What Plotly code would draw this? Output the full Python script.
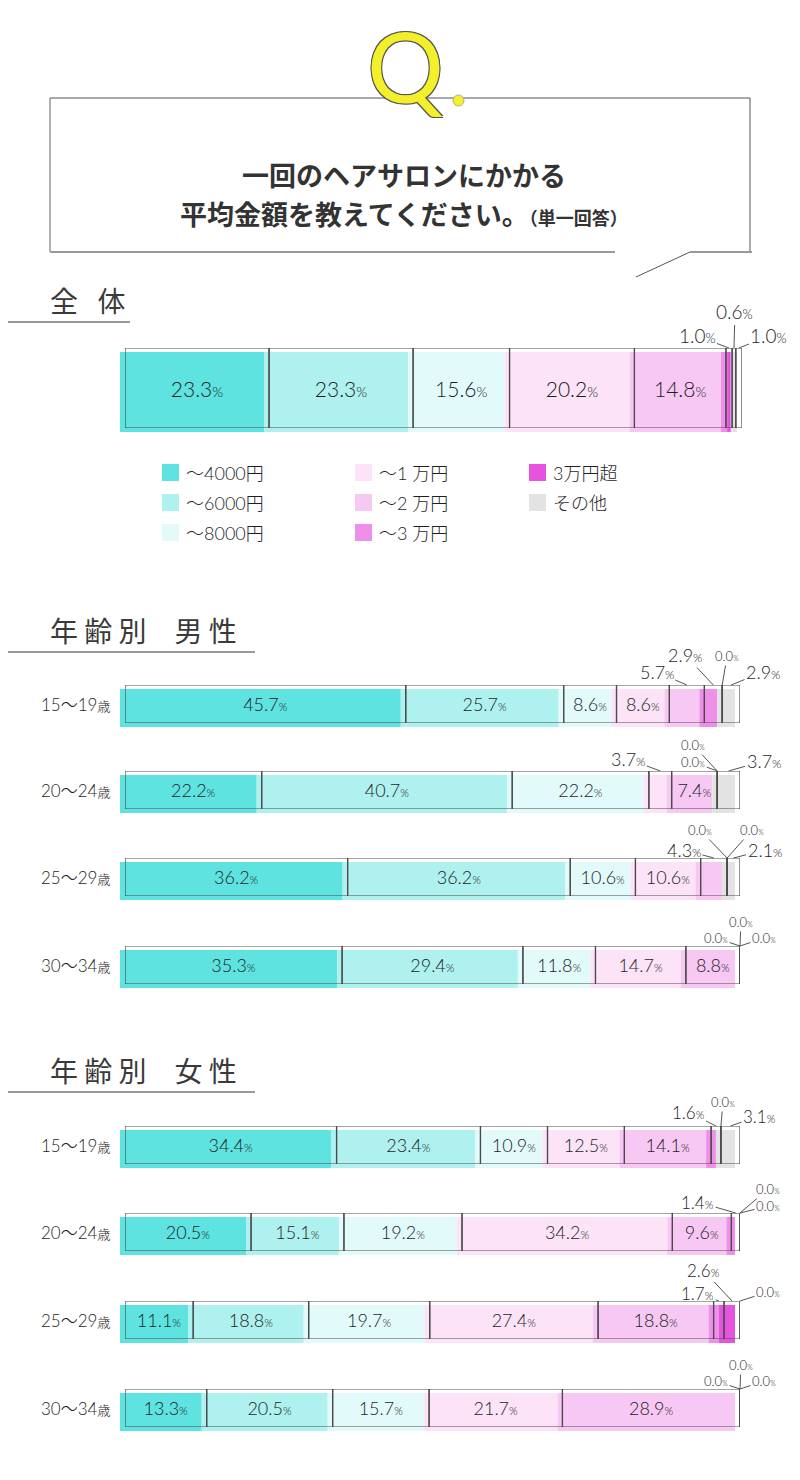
import numpy as np
import plotly.graph_objects as go

W, H = 800, 1480
PAD = 8  # ページ余白の分

# 回答カテゴリと色
categories = ['～4000円', '～6000円', '～8000円', '～1万円', '～2万円', '～3万円', '3万円超', 'その他']
legend_labels = ['～4000円', '～6000円', '～8000円', '～1 万円', '～2 万円', '～3 万円', '3万円超', 'その他']
colors = ['#5fe3e0', '#aef1ef', '#e3fafa', '#fce3f8', '#f7c8f3', '#ee8fe9', '#e653de', '#e3e3e3']

# 全体
overall = [23.3, 23.3, 15.6, 20.2, 14.8, 1.0, 0.6, 1.0]

# 年齢別
age_groups = ['15～19', '20～24', '25～29', '30～34']
male_15_19 = [45.7, 25.7, 8.6, 8.6, 5.7, 2.9, 0.0, 2.9]
male_20_24 = [22.2, 40.7, 22.2, 3.7, 7.4, 0.0, 0.0, 3.7]
male_25_29 = [36.2, 36.2, 10.6, 10.6, 4.3, 0.0, 0.0, 2.1]
male_30_34 = [35.3, 29.4, 11.8, 14.7, 8.8, 0.0, 0.0, 0.0]
female_15_19 = [34.4, 23.4, 10.9, 12.5, 14.1, 1.6, 0.0, 3.1]
female_20_24 = [20.5, 15.1, 19.2, 34.2, 9.6, 1.4, 0.0, 0.0]
female_25_29 = [11.1, 18.8, 19.7, 27.4, 18.8, 1.7, 2.6, 0.0]
female_30_34 = [13.3, 20.5, 15.7, 21.7, 28.9, 0.0, 0.0, 0.0]

NUM_FONT = 'Lato, Noto Sans CJK JP'
JP_FONT = 'Noto Sans CJK JP'
TXT = '#1e1e1e'

FW, FH = W - PAD, H - PAD


def px(x):
    return (x - PAD) / FW


def py(y):
    return 1 - (y - PAD) / FH


def pct(v, small):
    return f"{v:.1f}<span style='font-size:{small}px'>%</span>"


# 外側ラベルの位置 (区分番号: (ax, ay))
callouts_overall = {5: (-32, -12), 6: (1, -36), 7: (30, -12)}
callouts = [
    {4: (-30, -13), 5: (-28, -30), 6: (5, -29), 7: (32, -13)},
    {3: (-32, -12), 5: (-24, -9), 6: (-24, -26), 7: (35, -10)},
    {4: (-30, -8), 5: (-27, -28), 6: (25, -28), 7: (31, -8)},
    {5: (-24, -8), 6: (1, -24), 7: (24, -8)},
    {5: (-28, -14), 6: (2, -24), 7: (29, -10)},
    {5: (-38, -11), 6: (28, -24), 7: (28, -7)},
    {5: (-21, -8), 6: (-29, -31), 7: (28, -9)},
    {5: (-24, -8), 6: (1, -24), 7: (24, -8)},
]

bars = [dict(vals=overall, top=348, bottom=428, x0=125, x1=742, fs=21, cfs=19, cs=callouts_overall, label=None)]
male_tops = [685, 771, 858, 946]
female_tops = [1126, 1213, 1301, 1389]
for i, v in enumerate([male_15_19, male_20_24, male_25_29, male_30_34]):
    bars.append(dict(vals=v, top=male_tops[i], bottom=male_tops[i] + 38, x0=125, x1=740,
                     fs=18, cfs=18, cs=callouts[i], label=age_groups[i]))
for i, v in enumerate([female_15_19, female_20_24, female_25_29, female_30_34]):
    bars.append(dict(vals=v, top=female_tops[i], bottom=female_tops[i] + 38, x0=125, x1=740,
                     fs=18, cfs=17, cs=callouts[4 + i], label=age_groups[i]))

fig = go.Figure()
annotations = []
shapes = []
layout_axes = {}

n = 1
for b in bars:
    vals = np.array(b['vals'])
    base = np.concatenate([[0], np.cumsum(vals)[:-1]])
    total = vals.sum()
    for k, shift in enumerate([(-5, 4), (0, 0)]):
        idx = n + k
        xa = 'x' if idx == 1 else f'x{idx}'
        ya = 'y' if idx == 1 else f'y{idx}'
        layout_axes['xaxis' if idx == 1 else f'xaxis{idx}'] = dict(
            domain=[px(b['x0'] + shift[0]), px(b['x1'] + shift[0])], range=[0, total],
            visible=False, anchor=ya, fixedrange=True)
        layout_axes['yaxis' if idx == 1 else f'yaxis{idx}'] = dict(
            domain=[py(b['bottom'] + shift[1]), py(b['top'] + shift[1])], range=[-0.5, 0.5],
            visible=False, anchor=xa, fixedrange=True)
        if k == 0:
            fig.add_trace(go.Bar(x=vals, base=base, y=[0] * len(vals), orientation='h', width=1,
                                 marker=dict(color=colors, line=dict(width=0)),
                                 xaxis=xa, yaxis=ya, showlegend=False, hoverinfo='skip'))
        else:
            texts = [pct(v, b['fs'] - 7) if v >= 7 else '' for v in vals]
            fig.add_trace(go.Bar(x=vals, base=base, y=[0] * len(vals), orientation='h', width=1,
                                 marker=dict(color='rgba(0,0,0,0)', line=dict(color='#4a4a4a', width=1.2)),
                                 text=texts, textposition='inside', insidetextanchor='middle',
                                 constraintext='none', cliponaxis=False,
                                 textfont=dict(family=NUM_FONT, size=b['fs'], color=TXT, weight=300),
                                 xaxis=xa, yaxis=ya, showlegend=False, hoverinfo='skip'))
            for seg, (ax, ay) in b['cs'].items():
                v = vals[seg]
                size = 13 if v == 0 else b['cfs']
                annotations.append(dict(
                    xref=xa, yref=ya, x=base[seg] + v / 2, y=0.5, ax=ax, ay=ay,
                    text=pct(v, size - 6), showarrow=True, arrowhead=0, arrowwidth=1,
                    arrowcolor='#555555', standoff=0,
                    font=dict(family=NUM_FONT, size=size, color=TXT, weight=300)))
            if b['label']:
                annotations.append(dict(
                    xref='paper', yref='paper', x=px(112), y=py((b['top'] + b['bottom']) / 2),
                    xanchor='right', yanchor='middle', showarrow=False,
                    text=b['label'] + "<span style='font-size:13px'>歳</span>",
                    font=dict(family=NUM_FONT, size=17, color=TXT, weight=300)))
    n += 2

# 凡例
for i, lab in enumerate(legend_labels):
    col, row = i // 3, i % 3
    sx = [162, 355, 529][col]
    cy = [473, 503, 533][row]
    shapes.append(dict(type='rect', xref='paper', yref='paper', x0=px(sx), x1=px(sx + 17),
                       y0=py(cy + 8), y1=py(cy - 9), fillcolor=colors[i], line=dict(width=0)))
    annotations.append(dict(xref='paper', yref='paper', x=px(sx + 22), y=py(cy), xanchor='left',
                            yanchor='middle', showarrow=False, text=lab,
                            font=dict(family=NUM_FONT, size=18, color=TXT, weight=300)))

# 見出し
for text, y, ux in [('全\u2002\u2009体', 300, 130), ('年 齢 別\u3000男 性', 630, 255), ('年 齢 別\u3000女 性', 1070, 255)]:
    annotations.append(dict(xref='paper', yref='paper', x=px(48), y=py(y), xanchor='left',
                            yanchor='middle', showarrow=False, text=text,
                            font=dict(family=JP_FONT, size=28, color='#3a3a3a')))
    shapes.append(dict(type='line', xref='paper', yref='paper', x0=px(PAD), x1=px(ux),
                       y0=py(y + 22), y1=py(y + 22), line=dict(color='#999999', width=2)))

# 質問ボックス
box_lines = [
    ((50, 98), (750, 98), '#555555', 1),
    ((750, 98), (750, 252), '#555555', 1),
    ((50, 98), (50, 252), '#666666', 1),
    ((50, 252), (615, 252), '#999999', 2),
    ((690, 252), (752, 252), '#999999', 2),
    ((690, 252), (636, 277), '#555555', 1),
]
for (x0, y0), (x1, y1), c, w in box_lines:
    shapes.append(dict(type='line', xref='paper', yref='paper', x0=px(x0), y0=py(y0),
                       x1=px(x1), y1=py(y1), line=dict(color=c, width=w)))

annotations.append(dict(xref='paper', yref='paper', x=px(406), y=py(66), showarrow=False,
                        text='Q', xanchor='center', yanchor='middle',
                        font=dict(family='Lato', size=96, color='#f3ef2a',
                                  shadow='1px 1px 0 #555, -1px -1px 0 #555, 1px -1px 0 #555, -1px 1px 0 #555')))
shapes.append(dict(type='circle', xref='paper', yref='paper', x0=px(453), x1=px(464),
                   y0=py(106), y1=py(95), fillcolor='#f3ef2a', line=dict(color='#999999', width=0.8)))

annotations.append(dict(xref='paper', yref='paper', x=px(404), y=py(153), showarrow=False,
                        text='<b>一回のヘアサロンにかかる</b>',
                        font=dict(family=JP_FONT, size=27, color='#333333')))
annotations.append(dict(xref='paper', yref='paper', x=px(404), y=py(192), showarrow=False,
                        text="<b>平均金額を教えてください。</b><span style='font-size:18px'><b>（単一回答）</b></span>",
                        font=dict(family=JP_FONT, size=27, color='#333333')))

fig.update_layout(
    width=FW, height=FH, margin=dict(l=0, r=0, t=0, b=0),
    paper_bgcolor='white', plot_bgcolor='rgba(0,0,0,0)',
    barmode='overlay', showlegend=False,
    annotations=annotations, shapes=shapes, **layout_axes)

fig.write_html("out.html")
